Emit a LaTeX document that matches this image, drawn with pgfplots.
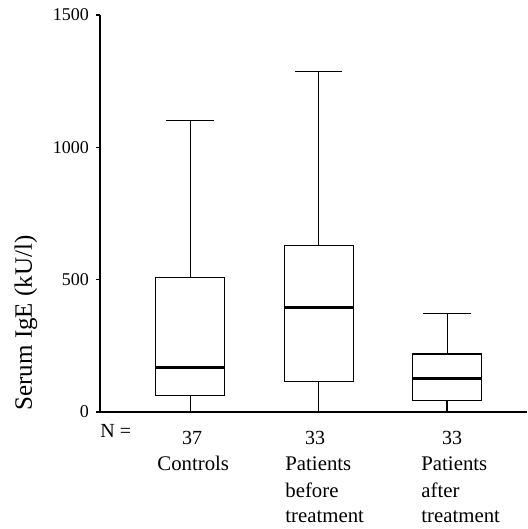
\documentclass[border=0pt]{standalone}
\usepackage{fontspec}
\setmainfont{Liberation Serif}
\usepackage{pgfplots}
\pgfplotsset{compat=1.18}
\begin{document}
\begin{tikzpicture}
\useasboundingbox (-50pt,-58.5pt) rectangle (213.5pt,206pt);
\begin{axis}[
  scale only axis, width=213.5pt, height=198.5pt,
  at={(0pt,0pt)}, anchor=south west,
  xmin=0.2996, xmax=3.6226, ymin=0, ymax=1500,
  axis lines*=left,
  axis line style={line width=0.8pt},
  ytick={0,500,1000,1500}, xtick=\empty,
  tick style={black, line width=0.8pt}, major tick length=2pt, tick align=outside,
  yticklabel style={font=\fontsize{9}{10}\selectfont},
  /pgf/number format/assume math mode=true,
  /pgf/number format/1000 sep={},
  clip=false,
  cycle list={{black,solid,mark=none,line width=0.6pt}},
]
% Controls
\addplot coordinates {(0.7315,64) (1.2685,64) (1.2685,508) (0.7315,508) (0.7315,64)};
\addplot[black, line width=1.5pt] coordinates {(0.7315,168) (1.2685,168)};
\addplot coordinates {(1,508) (1,1100)};
\addplot coordinates {(0.817,1100) (1.183,1100)};
\addplot coordinates {(1,64) (1,0)};
% Patients before treatment
\addplot coordinates {(1.7315,117) (2.2685,117) (2.2685,630) (1.7315,630) (1.7315,117)};
\addplot[black, line width=1.5pt] coordinates {(1.7315,393) (2.2685,393)};
\addplot coordinates {(2,630) (2,1288)};
\addplot coordinates {(1.817,1288) (2.183,1288)};
\addplot coordinates {(2,117) (2,0)};
\addplot[black, line width=1pt] coordinates {(1.817,0) (2.183,0)};
% Patients after treatment
\addplot coordinates {(2.7315,42) (3.2685,42) (3.2685,219) (2.7315,219) (2.7315,42)};
\addplot[black, line width=1.5pt] coordinates {(2.7315,125) (3.2685,125)};
\addplot coordinates {(3,219) (3,374)};
\addplot coordinates {(2.817,374) (3.183,374)};
\addplot coordinates {(3,42) (3,0)};
\end{axis}
\node[anchor=base west, font=\fontsize{10}{12}\selectfont, inner xsep=0pt] at (0pt,-13pt) {N =};
\node[anchor=base, font=\fontsize{10}{12}\selectfont] at (46pt,-16.5pt) {37};
\node[anchor=base, font=\fontsize{10}{12}\selectfont] at (107.5pt,-16.5pt) {33};
\node[anchor=base, font=\fontsize{10}{12}\selectfont] at (176pt,-16.5pt) {33};
\node[anchor=base west, inner xsep=0pt, font=\fontsize{10.4}{12}\selectfont] at (28.5pt,-29.5pt) {Controls};
\node[anchor=base west, inner xsep=0pt, font=\fontsize{10.4}{12}\selectfont] at (92.5pt,-29.5pt) {Patients};
\node[anchor=base west, inner xsep=0pt, font=\fontsize{10.4}{12}\selectfont] at (92.5pt,-42.5pt) {before};
\node[anchor=base west, inner xsep=0pt, font=\fontsize{10.4}{12}\selectfont] at (92.5pt,-55.5pt) {treatment};
\node[anchor=base west, inner xsep=0pt, font=\fontsize{10.4}{12}\selectfont] at (160.5pt,-29.5pt) {Patients};
\node[anchor=base west, inner xsep=0pt, font=\fontsize{10.4}{12}\selectfont] at (160.5pt,-42.5pt) {after};
\node[anchor=base west, inner xsep=0pt, font=\fontsize{10.4}{12}\selectfont] at (160.5pt,-55.5pt) {treatment};
\node[rotate=90, font=\fontsize{12.5}{14}\selectfont] at (-37pt,44.5pt) {Serum IgE (kU/l)};
\end{tikzpicture}
\end{document}
